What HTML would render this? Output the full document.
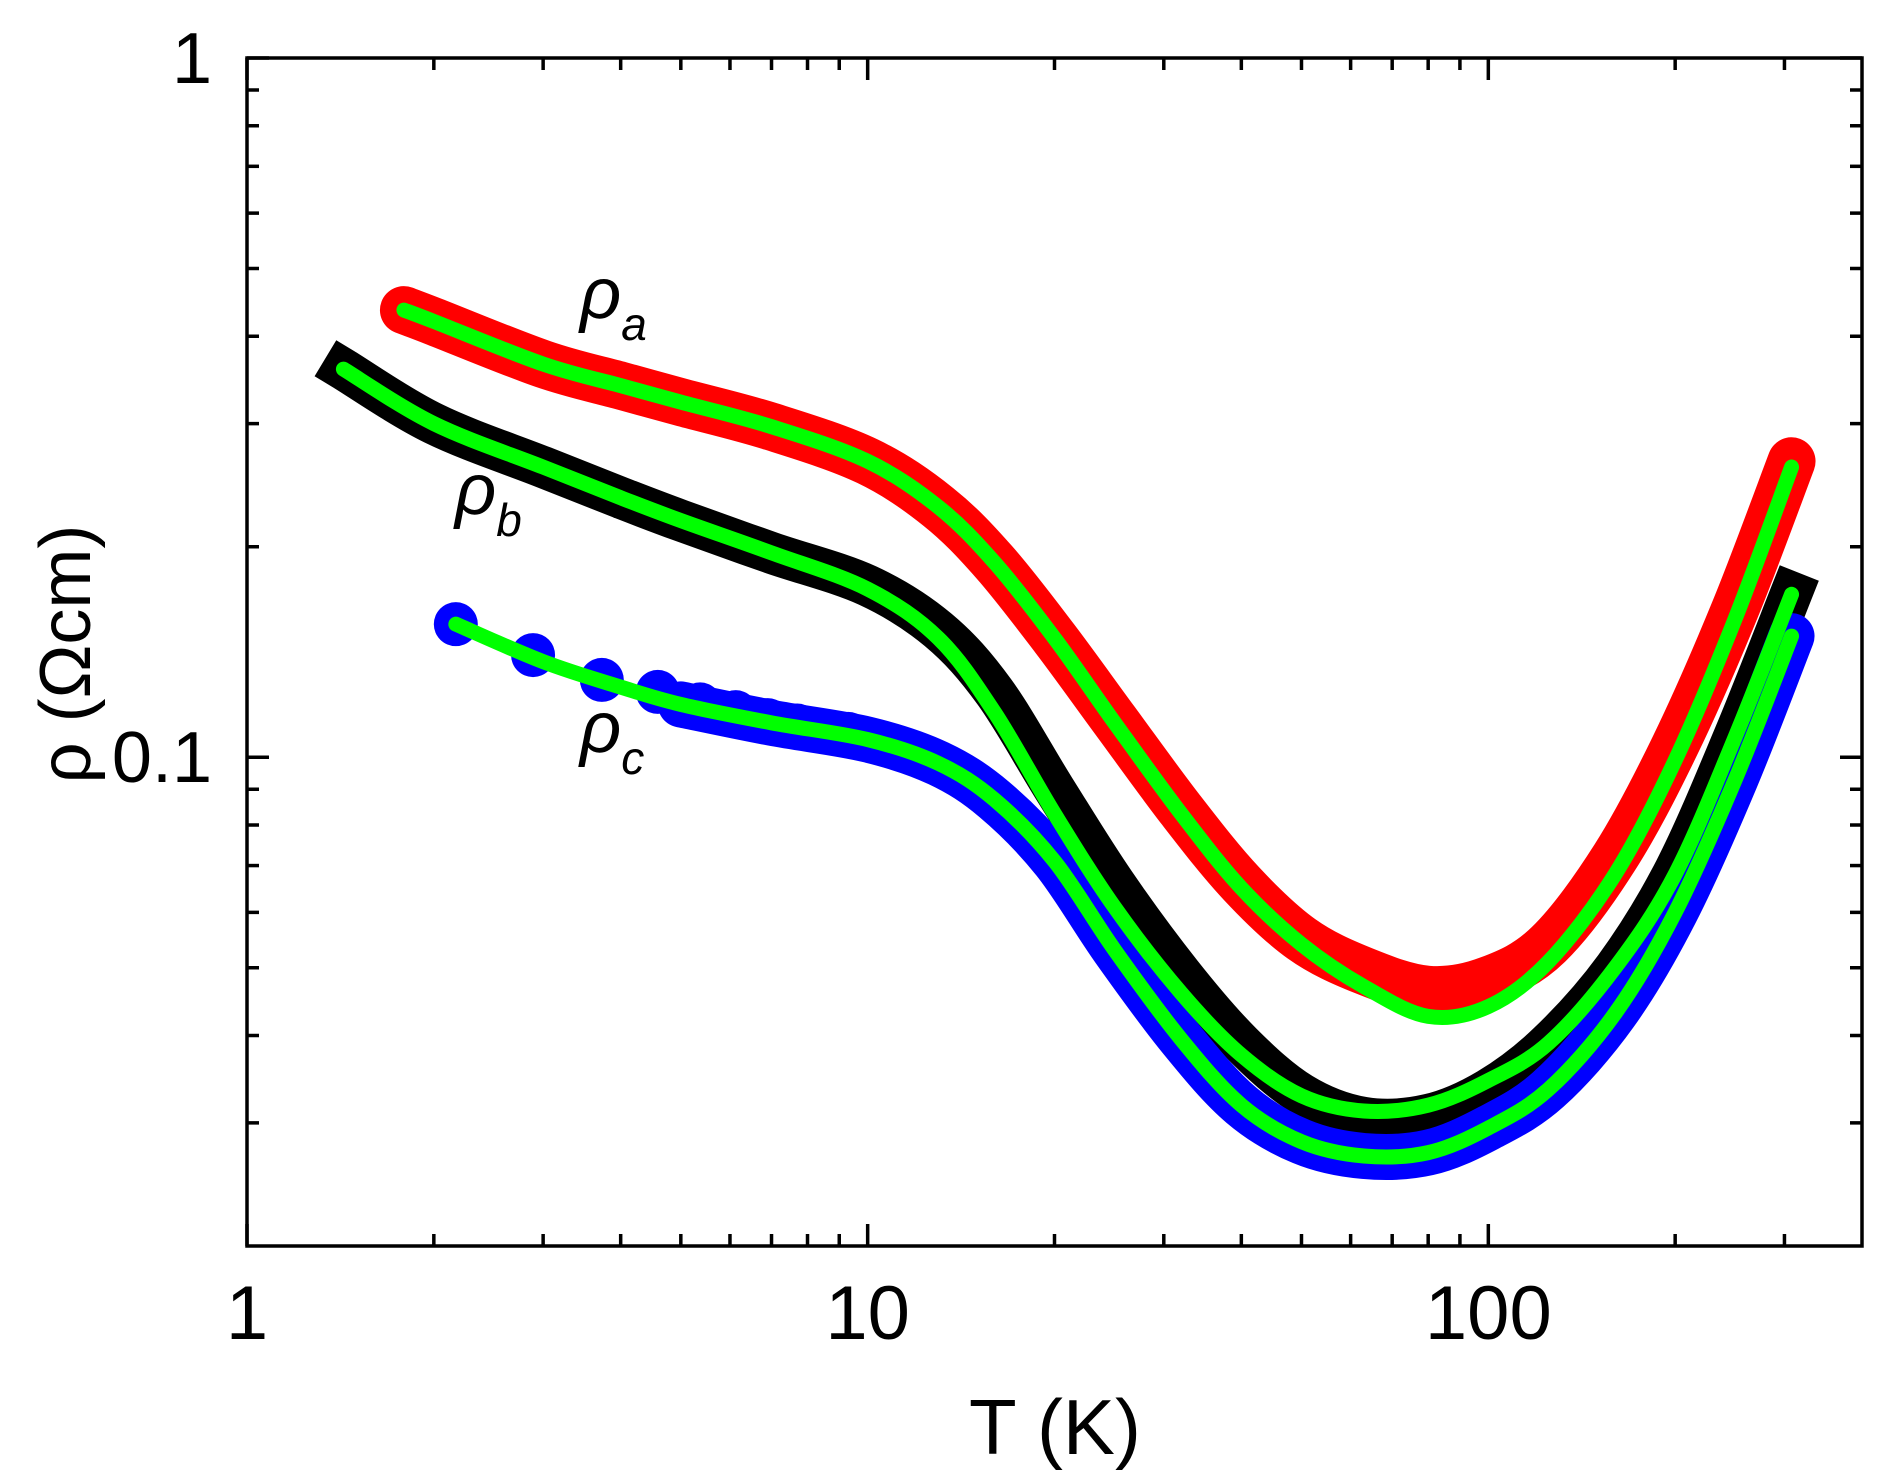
<!DOCTYPE html>
<html><head><meta charset="utf-8"><style>
html,body{margin:0;padding:0;background:#fff;}
svg{display:block;font-family:"Liberation Sans",sans-serif;}
</style></head><body>
<svg id="chart" width="1890" height="1484" viewBox="0 0 1890 1484" xmlns="http://www.w3.org/2000/svg">
<g id="series"></g>
<g id="axes"></g>
<text x="580" y="318" font-size="72" font-style="italic">ρ<tspan font-size="46" dy="22">a</tspan></text>
<text x="455" y="514" font-size="72" font-style="italic">ρ<tspan font-size="46" dy="22">b</tspan></text>
<text x="580" y="752" font-size="72" font-style="italic">ρ<tspan font-size="46" dy="22">c</tspan></text>
<text x="1055" y="1454" font-size="78" text-anchor="middle">T (K)</text>
<text transform="translate(90,654) rotate(-90)" font-size="72" text-anchor="middle">ρ (Ωcm)</text>
</svg>
<script>
const aT=[1.79,2,3,4,5,7,10,13,16,20,25,32,40,50,63,80,100,125,160,200,250,308];
const aFitRho=[0.436,0.42,0.365,0.34,0.322,0.297,0.265,0.228,0.19,0.148,0.112,0.083,0.065,0.054,0.047,0.0426,0.044,0.051,0.068,0.099,0.158,0.26];
const aRho=[0.436,0.42,0.365,0.34,0.322,0.297,0.265,0.228,0.19,0.148,0.113,0.084,0.066,0.055,0.0495,0.0465,0.048,0.054,0.072,0.104,0.163,0.265];
const bT=[1.43,2,3,4,5,7,10,13,16,20,25,32,40,50,63,80,100,125,160,200,250,308];
const bFitRho=[0.359,0.30,0.26,0.235,0.218,0.196,0.174,0.148,0.116,0.083,0.061,0.046,0.0375,0.0328,0.0312,0.0318,0.0345,0.039,0.050,0.068,0.107,0.171];
const bRho=[0.359,0.30,0.26,0.235,0.218,0.196,0.176,0.152,0.124,0.090,0.066,0.049,0.039,0.033,0.0305,0.0308,0.0335,0.039,0.050,0.069,0.108,0.172];
const cT=[2.17,3,4,5,7,10,13,16,20,25,32,40,50,63,80,100,125,160,200,250,308];
const cRho=[0.155,0.137,0.126,0.119,0.112,0.106,0.098,0.087,0.071,0.053,0.0395,0.0318,0.0282,0.0269,0.0272,0.0295,0.0335,0.043,0.060,0.093,0.149];
const cMarkT=[2.17,2.89,3.73,4.59,5.37,6.13,6.9,7.7,8.5,9.3];
const cMarkRho=[0.155,0.140,0.129,0.124,0.119,0.116,0.113,0.111,0.109,0.108];
const xTicks=[1,10,100];
const xTickLabels=["1","10","100"];
const yTicks=[1,0.1];
const yTickLabels=["1","0.1"];

const L=247,R=1862,T0=58,B=1246;
const xMin=1,xMax=400,yMin=0.02,yMax=1;
const sx=v=>L+(Math.log10(v)-Math.log10(xMin))/(Math.log10(xMax)-Math.log10(xMin))*(R-L);
const sy=v=>B-(Math.log10(v)-Math.log10(yMin))/(Math.log10(yMax)-Math.log10(yMin))*(B-T0);
const NS="http://www.w3.org/2000/svg";
const ser=document.getElementById('series'),ax=document.getElementById('axes');
function mk(tag,attrs,parent){const e=document.createElementNS(NS,tag);for(const k in attrs)e.setAttribute(k,attrs[k]);parent.appendChild(e);return e;}
function pathOf(xs,ys){
  const p=xs.map((x,i)=>[sx(x),sy(ys[i])]);
  let d='M'+p[0][0]+','+p[0][1];
  for(let i=0;i<p.length-1;i++){
    const p0=p[i-1]||p[i],p1=p[i],p2=p[i+1],p3=p[i+2]||p2;
    const c1x=p1[0]+(p2[0]-p0[0])/6,c1y=p1[1]+(p2[1]-p0[1])/6;
    const c2x=p2[0]-(p3[0]-p1[0])/6,c2y=p2[1]-(p3[1]-p1[1])/6;
    d+=' C'+c1x+','+c1y+' '+c2x+','+c2y+' '+p2[0]+','+p2[1];
  }
  return d;
}
let e;
e=mk('path',{d:pathOf(aT,aRho),fill:'none',stroke:'#ff0000','stroke-width':48,'stroke-linejoin':'round','stroke-linecap':'round'},ser);


e=mk('path',{d:pathOf(bT,bRho),fill:'none',stroke:'#000','stroke-width':42,'stroke-linejoin':'round','stroke-linecap':'square'},ser);


e=mk('path',{d:pathOf(cT.slice(3),cRho.slice(3)),fill:'none',stroke:'#0000ff','stroke-width':46,'stroke-linejoin':'round','stroke-linecap':'round'},ser);


cMarkT.forEach((t,i)=>{
  const c=mk('circle',{cx:sx(t),cy:sy(cMarkRho[i]),r:22,fill:'#0000ff'},ser);
  
  
});
[[aT,aFitRho,'rho-a-fit'],[bT,bFitRho,'rho-b-fit'],[cT,cRho,'rho-c-fit']].forEach(s=>{
  const f=mk('path',{d:pathOf(s[0],s[1]),fill:'none',stroke:'#00ff00','stroke-width':15,'stroke-linecap':'round'},ser);
  
  
});
e=mk('rect',{x:L,y:T0,width:R-L,height:B-T0,fill:'none',stroke:'#000','stroke-width':3.5},ax);


function tickX(v,len){const x=sx(v);
  mk('line',{x1:x,y1:B,x2:x,y2:B-len,stroke:'#000','stroke-width':3.5},ax);
  mk('line',{x1:x,y1:T0,x2:x,y2:T0+len,stroke:'#000','stroke-width':3.5},ax);}
function tickY(v,len){const y=sy(v);
  mk('line',{x1:L,y1:y,x2:L+len,y2:y,stroke:'#000','stroke-width':3.5},ax);
  mk('line',{x1:R,y1:y,x2:R-len,y2:y,stroke:'#000','stroke-width':3.5},ax);}
for(let dec=1;dec<=100;dec*=10)for(let k=2;k<=9;k++){const v=k*dec;if(v<xMax)tickX(v,12);}
xTicks.forEach(v=>tickX(v,22));
for(let dec=0.01;dec<=0.1001;dec*=10)for(let k=2;k<=9;k++){const v=k*dec;if(v>yMin*1.01&&v<yMax)tickY(v,12);}
yTicks.forEach(v=>tickY(v,22));
xTicks.forEach((v,i)=>{const t=mk('text',{x:sx(v),y:1339,'font-size':76,'text-anchor':'middle'},ax);t.textContent=xTickLabels[i];
  
  });
yTicks.forEach((v,i)=>{const t=mk('text',{x:212,y:sy(v)+25,'font-size':72,'text-anchor':'end'},ax);t.textContent=yTickLabels[i];
  
  });
</script>
</body></html>
